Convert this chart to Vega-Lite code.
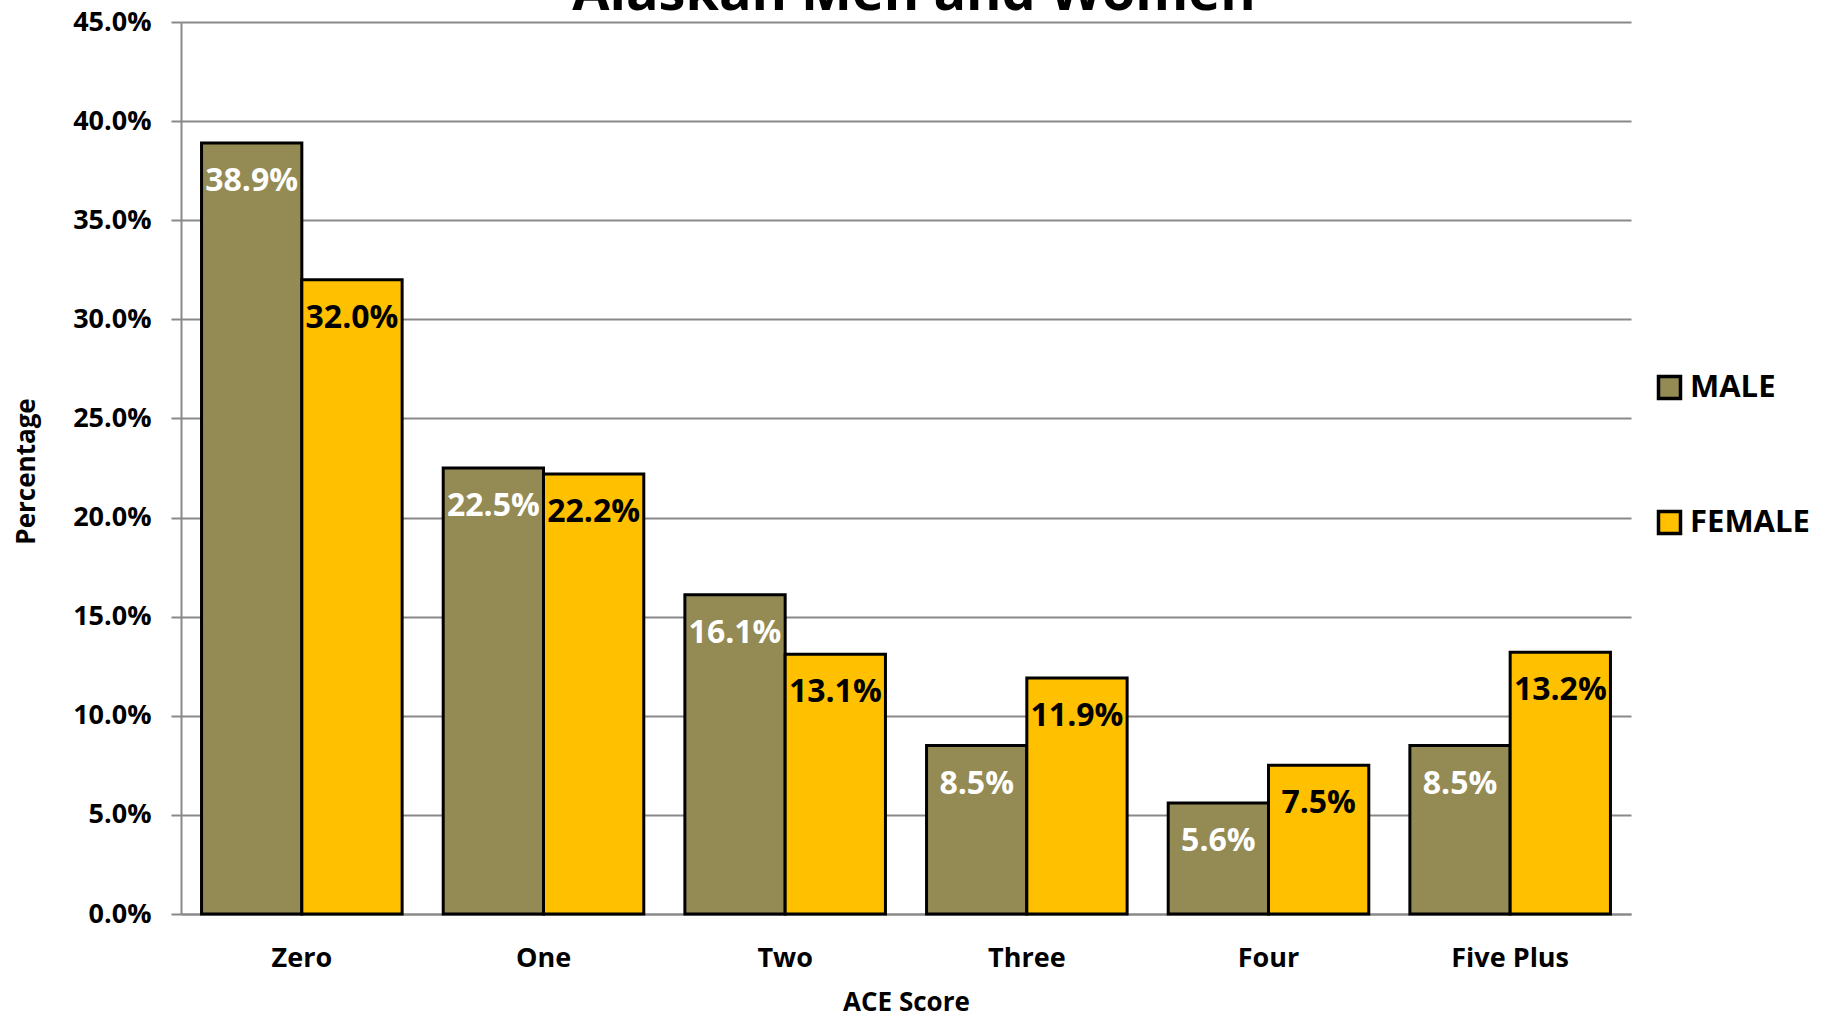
{
  "$schema": "https://vega.github.io/schema/vega-lite/v6.json",
  "autosize": "none",
  "padding": {"left": 181, "top": 22, "right": 201, "bottom": 102},
  "width": 1450,
  "height": 892,
  "background": "white",
  "title": {
    "text": "Alaskan Men and Women",
    "font": "Open Sans",
    "fontSize": 54,
    "fontWeight": "bold",
    "color": "black",
    "anchor": "middle",
    "baseline": "alphabetic",
    "offset": -56,
    "dx": 8
  },
  "config": {
    "font": "Open Sans",
    "view": {"stroke": null},
    "axis": {
      "labelFont": "Open Sans",
      "labelFontWeight": "bold",
      "labelFontSize": 27,
      "labelColor": "black",
      "titleFont": "Open Sans",
      "titleFontWeight": "bold",
      "titleFontSize": 26,
      "titleColor": "black",
      "domainColor": "#898989",
      "domainWidth": 2,
      "tickColor": "#898989",
      "tickWidth": 2,
      "gridColor": "#898989",
      "gridWidth": 2
    }
  },
  "data": {
    "values": [
      {"score": "Zero", "sex": "MALE", "pct": 0.389},
      {"score": "Zero", "sex": "FEMALE", "pct": 0.320},
      {"score": "One", "sex": "MALE", "pct": 0.225},
      {"score": "One", "sex": "FEMALE", "pct": 0.222},
      {"score": "Two", "sex": "MALE", "pct": 0.161},
      {"score": "Two", "sex": "FEMALE", "pct": 0.131},
      {"score": "Three", "sex": "MALE", "pct": 0.085},
      {"score": "Three", "sex": "FEMALE", "pct": 0.119},
      {"score": "Four", "sex": "MALE", "pct": 0.056},
      {"score": "Four", "sex": "FEMALE", "pct": 0.075},
      {"score": "Five Plus", "sex": "MALE", "pct": 0.085},
      {"score": "Five Plus", "sex": "FEMALE", "pct": 0.132}
    ]
  },
  "encoding": {
    "x": {
      "field": "score",
      "type": "nominal",
      "sort": ["Zero", "One", "Two", "Three", "Four", "Five Plus"],
      "scale": {"paddingInner": 0.17, "paddingOuter": 0.085},
      "axis": {
        "title": "ACE Score",
        "labelAngle": 0,
        "ticks": false,
        "tickSize": 0,
        "labelPadding": 31,
        "titlePadding": 18
      }
    },
    "xOffset": {
      "field": "sex",
      "type": "nominal",
      "sort": ["MALE", "FEMALE"],
      "scale": {"paddingInner": 0, "paddingOuter": 0}
    },
    "y": {
      "field": "pct",
      "type": "quantitative",
      "scale": {"domain": [0, 0.45], "nice": false},
      "axis": {
        "title": "Percentage",
        "format": ".1%",
        "values": [0, 0.05, 0.1, 0.15, 0.2, 0.25, 0.3, 0.35, 0.4, 0.45],
        "tickSize": 10,
        "labelPadding": 20,
        "titleX": -155,
        "titleY": 449,
        "titleAngle": -90,
        "titleAlign": "center",
        "titleBaseline": "middle"
      }
    }
  },
  "layer": [
    {
      "mark": {"type": "bar", "stroke": "black", "strokeWidth": 3},
      "encoding": {
        "color": {
          "field": "sex",
          "type": "nominal",
          "sort": ["MALE", "FEMALE"],
          "scale": {"domain": ["MALE", "FEMALE"], "range": ["#948A54", "#FFC000"]},
          "legend": {
            "title": null,
            "orient": "none",
            "legendX": 1473,
            "legendY": 350,
            "padding": 0,
            "symbolType": "square",
            "symbolSize": 484,
            "symbolStrokeColor": "black",
            "symbolStrokeWidth": 3.5,
            "labelFont": "Open Sans",
            "labelFontWeight": "bold",
            "labelFontSize": 31,
            "labelColor": "black",
            "labelOffset": 5,
            "rowPadding": 98
          }
        }
      }
    },
    {
      "mark": {
        "type": "text",
        "font": "Open Sans",
        "fontWeight": "bold",
        "fontSize": 32,
        "baseline": "alphabetic",
        "align": "center",
        "dy": 48
      },
      "encoding": {
        "text": {"field": "pct", "type": "quantitative", "format": ".1%"},
        "color": {
          "condition": {"test": "datum.sex === 'MALE'", "value": "white"},
          "value": "black"
        }
      }
    }
  ]
}
